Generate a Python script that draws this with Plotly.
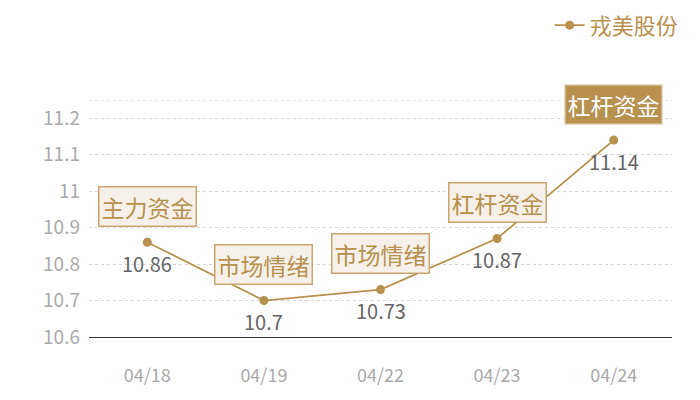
import plotly.graph_objects as go

dates = ["04/18", "04/19", "04/22", "04/23", "04/24"]
prices = [10.86, 10.70, 10.73, 10.87, 11.14]
tags = ["主力资金", "市场情绪", "市场情绪", "杠杆资金", "杠杆资金"]
highlight = [False, False, False, False, True]
series_name = "戎美股份"
y_ticks = [10.6, 10.7, 10.8, 10.9, 11.0, 11.1, 11.2]
y_tick_text = ["10.6", "10.7", "10.8", "10.9", "11", "11.1", "11.2"]
y_max = 11.25

GOLD = "#b8914f"
FONT = "Noto Sans CJK SC"
GRID_DASH = "3px,3px"

fig = go.Figure()
fig.add_trace(go.Scatter(
    x=dates, y=prices, name=series_name, mode="lines+markers",
    line=dict(color=GOLD, width=1.8),
    marker=dict(color=GOLD, size=9),
))

for d, p, t, h in zip(dates, prices, tags, highlight):
    fig.add_annotation(
        x=d, y=p, text=t, showarrow=False, yshift=36,
        font=dict(family=FONT, size=23, color="#ffffff" if h else GOLD),
        bgcolor=GOLD if h else "#f5f0e9",
        bordercolor="#e8dcc8" if h else "#c9a670",
        borderwidth=1.5, borderpad=2,
    )
    fig.add_annotation(
        x=d, y=p, text=f"{p:g}", showarrow=False, yshift=-21,
        font=dict(family=FONT, size=20, color="#666666"),
    )

fig.add_shape(type="line", xref="paper", x0=0, x1=1, yref="y", y0=y_max, y1=y_max,
              line=dict(color="#d4d4d4", width=1, dash=GRID_DASH), layer="below")

fig.update_layout(
    width=700, height=400,
    margin=dict(l=81, r=36, t=92, b=71, autoexpand=False),
    paper_bgcolor="white", plot_bgcolor="white",
    font=dict(family=FONT),
    showlegend=True,
    legend=dict(
        x=1.02, xanchor="right", y=1.315, yanchor="middle",
        orientation="h", font=dict(family=FONT, size=22, color=GOLD),
        itemwidth=30, bgcolor="rgba(0,0,0,0)",
    ),
    xaxis=dict(
        type="category", range=[-0.5, 4.5],
        showgrid=False, showline=True, linecolor="#333333", linewidth=1,
        ticks="", tickfont=dict(family=FONT, size=18, color="#aaaaaa"),
        ticklabelstandoff=22, zeroline=False,
    ),
    yaxis=dict(
        range=[10.6, y_max], tickvals=y_ticks, ticktext=y_tick_text,
        showgrid=True, gridcolor="#d4d4d4", griddash=GRID_DASH, gridwidth=1,
        showline=False, zeroline=False, ticks="",
        tickfont=dict(family=FONT, size=19, color="#aaaaaa"),
        ticklabelstandoff=8,
    ),
)

fig.write_html("out.html")
